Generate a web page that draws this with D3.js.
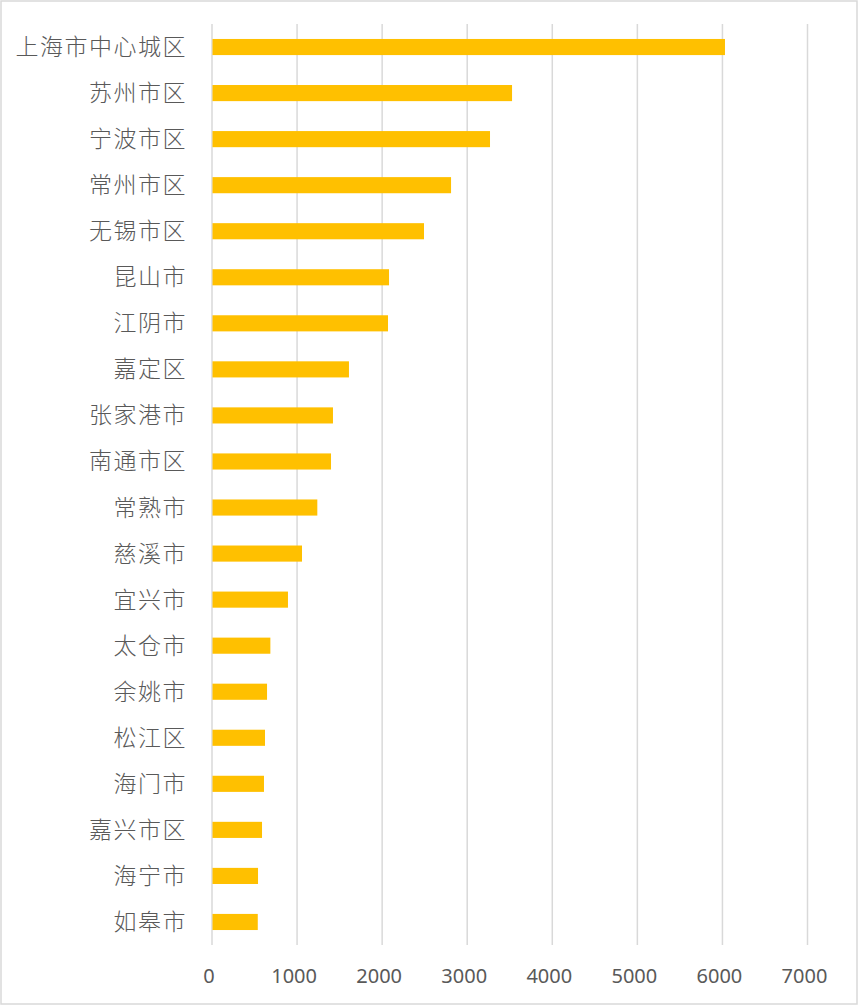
<!DOCTYPE html>
<html><head><meta charset="utf-8">
<script src="https://cdn.jsdelivr.net/npm/d3@7"></script>
<style>html,body{margin:0;padding:0;background:#fff;}</style>
</head><body>
<svg id="chart" width="859" height="1007"></svg>
<script>
const categories = ["上海市中心城区","苏州市区","宁波市区","常州市区","无锡市区","昆山市","江阴市","嘉定区","张家港市","南通市区","常熟市","慈溪市","宜兴市","太仓市","余姚市","松江区","海门市","嘉兴市区","海宁市","如皋市"];
const values = [6030,3527,3268,2810,2492,2081,2069,1610,1422,1399,1238,1058,893,686,647,623,611,588,541,538];
const tickValues = [0,1000,2000,3000,4000,5000,6000,7000];

const svg = d3.select("#chart");
svg.append("rect").attr("x",1).attr("y",1).attr("width",856).attr("height",1003)
  .attr("fill","#fff").attr("stroke","#d9d9d9").attr("stroke-width",1.5);

const x = d3.scaleLinear().domain([0,7000]).range([212,807.5]);
const y = d3.scaleBand().domain(categories).range([24,945]).paddingInner(0.65).paddingOuter(0.325);

// gridlines
svg.append("g").selectAll("line").data(tickValues).join("line")
  .attr("x1",d=>x(d)).attr("x2",d=>x(d)).attr("y1",24).attr("y2",945)
  .attr("stroke","#d9d9d9").attr("stroke-width",1.5);

// bars
svg.append("g").selectAll("rect").data(values).join("rect")
  .attr("x",x(0)+0.5).attr("y",(d,i)=>y(categories[i]))
  .attr("width",d=>x(d)-x(0)-0.5).attr("height",y.bandwidth())
  .attr("fill","#FFC000");

// category labels
svg.append("g").selectAll("text").data(categories).join("text")
  .attr("x",187).attr("y",d=>y(d)+y.bandwidth()/2-2)
  .attr("text-anchor","end").attr("dominant-baseline","central")
  .attr("font-family","'Noto Sans CJK SC', sans-serif").attr("font-size",23)
  .attr("letter-spacing","1.5px").attr("font-weight",300)
  .attr("fill","#595959").text(d=>d);

// x tick labels
svg.append("g").selectAll("text").data(tickValues).join("text")
  .attr("x",d=>x(d)-3).attr("y",975)
  .attr("text-anchor","middle").attr("dominant-baseline","central")
  .attr("font-family","'Noto Sans', 'Open Sans', sans-serif").attr("font-size",20)
  .attr("fill","#595959").text(d=>d);
</script>
</body></html>
